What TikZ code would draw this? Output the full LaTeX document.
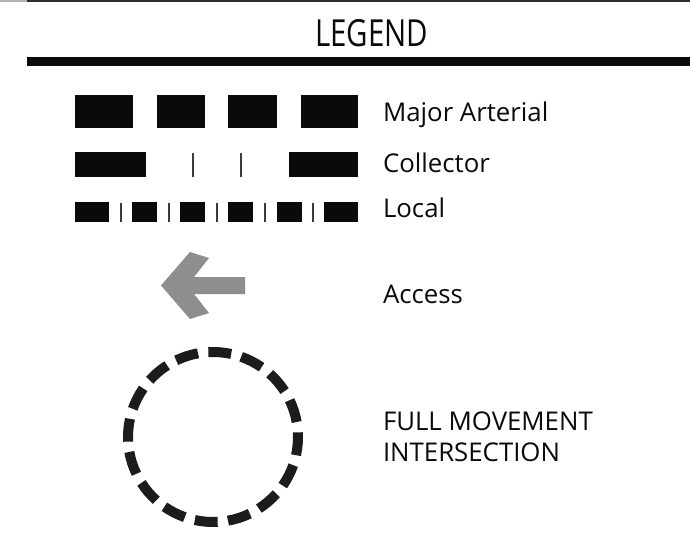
\documentclass[tikz,border=0pt]{standalone}
\usepackage{fontspec}
\setmainfont{Open Sans}
\usetikzlibrary{calc}
\definecolor{ink}{HTML}{0A0A0A}
\definecolor{dashink}{HTML}{1C1C1C}
\definecolor{arrowgray}{HTML}{8E8E8E}
\tikzset{
  lbl/.style={inner sep=0pt, outer sep=0pt, anchor=base west, text=ink,
              font=\fontsize{25.8}{30}\selectfont},
  blockfill/.style={fill=ink},
  tick/.style={draw=ink!80, line width=1.4pt},
  circdash/.style={draw=dashink, line width=10pt, line cap=butt},
}
\begin{document}
\begin{tikzpicture}[x=1pt,y=-1pt]
\useasboundingbox (0,0) rectangle (690,537);
\fill[white] (0,0) rectangle (690,537);
% top border line and heading bar
\draw[gray!60, line width=1.5pt] (0,1) -- (27,1);
\draw[ink!85, line width=1.5pt] (27,1) -- (690,1);
\fill[ink] (27,57) rectangle (690,66);
\node[inner sep=0pt, anchor=base, text=ink] (title) at (371.5,47)
  {\resizebox{113pt}{27pt}{LEGEND}};
% Major Arterial
\foreach \a/\b in {75/133,157/205,228/277,301/358}
  \fill[blockfill] (\a,95) rectangle (\b,128);
\node[lbl] (ma) at (383,122) {Major Arterial};
% Collector
\fill[blockfill] (75,152) rectangle (146,177);
\fill[blockfill] (289,152) rectangle (358,177);
\foreach \x in {193,241}
  \draw[tick] (\x,153) -- (\x,177);
\node[lbl] (col) at (383,173) {Collector};
% Local
\foreach \a/\b in {75/109,132/157,180/205,228/253,277/302,324/358}
  \fill[blockfill] (\a,202) rectangle (\b,222);
\foreach \x in {121,169,217,265,313}
  \draw[tick] (\x,203) -- (\x,222);
\node[lbl] (loc) at (383,218) {Local};
% Access arrow
\fill[arrowgray] (161,285.5) -- (190,252) -- (209,258) -- (194,277) -- (245,277)
  -- (245,294) -- (194,294) -- (209,313) -- (190,319) -- cycle;
\node[lbl] (acc) at (383,303) {Access};
% Full movement intersection circle
\coordinate (c) at (213,437);
\foreach \k in {0,...,15}{
  \pgfmathsetmacro{\s}{-4.6+22.5*\k-7.75}
  \pgfmathsetmacro{\e}{-4.6+22.5*\k+7.75}
  \draw[circdash] ($(c)+(\s:85pt)$) arc[start angle=\s, end angle=\e, radius=85pt];
}
\node[lbl] (fm1) at (383,430) {FULL MOVEMENT};
\node[lbl] (fm2) at (383,461) {INTERSECTION};
\end{tikzpicture}
\end{document}
